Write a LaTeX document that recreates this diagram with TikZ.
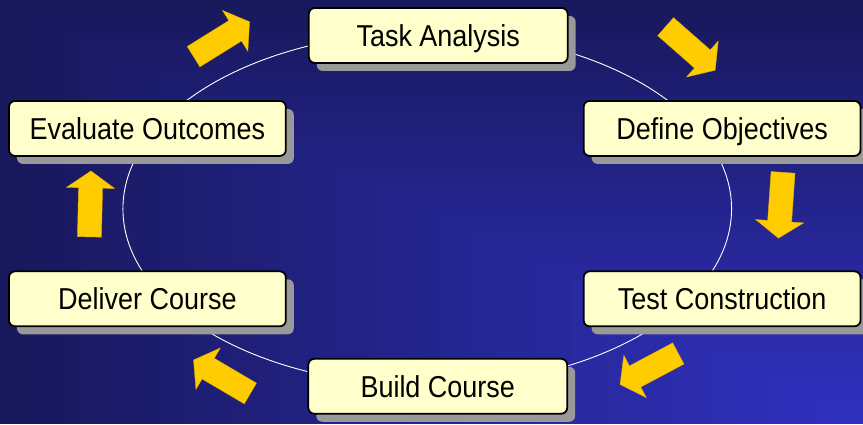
\documentclass[tikz,border=0pt]{standalone}
\usepackage{fontspec}
\usepackage{graphicx}
\setmainfont{Liberation Sans}
\usetikzlibrary{shadows}
\definecolor{bgDark}{HTML}{18185C}
\definecolor{bgBright}{HTML}{3131C2}
\definecolor{boxfill}{HTML}{FFFFCC}
\definecolor{shadowgray}{HTML}{999999}
\definecolor{arrowyellow}{HTML}{FFCC00}
\definecolor{arrowedge}{HTML}{E0B000}
\tikzset{
  stage/.style={draw=black, line width=1.8pt, fill=boxfill, rounded corners=6pt,
    minimum height=55pt, inner sep=0pt, text=black,
    text height=21.7pt, text depth=0pt,
    font=\fontsize{27}{30}\selectfont,
    drop shadow={shadow xshift=8pt, shadow yshift=-8pt, fill=shadowgray, opacity=1}},
  narrowstage/.style={stage, minimum width=259pt},
  widestage/.style={stage, minimum width=277pt},
  cycleline/.style={draw=white, line width=0.9pt},
  blockarrow/.style={fill=arrowyellow, draw=arrowedge, line width=0.4pt},
  pics/flowarrow/.style={code={
    \filldraw[blockarrow] (0,12)--(49,12)--(49,24)--(66,0)--(49,-24)--(49,-12)--(0,-12)--cycle;}}
}
\newcommand{\stagetext}[1]{\scalebox{1}[1.12]{#1}}
\begin{document}
\begin{tikzpicture}[x=1pt,y=-1pt]
  % rectangular "from corner" gradient, brightest at lower right
  \foreach \i in {0,...,79}{
    \pgfmathsetmacro{\t}{1-\i/80}
    \pgfmathsetmacro{\p}{100*\t}
    \fill[bgDark!\p!bgBright] ({863-863*\t},{424-424*\t}) rectangle (863.5,424.5);
  }
  \useasboundingbox (0,0) rectangle (863,424);
  \draw[cycleline] (427.5,209) ellipse [x radius=304.5pt, y radius=177pt];

  \node[narrowstage] (task) at (438.5,35.5) {\stagetext{Task Analysis}};
  \node[widestage] (define) at (722.5,128.5) {\stagetext{Define Objectives}};
  \node[widestage] (test) at (722.5,299) {\stagetext{Test Construction}};
  \node[narrowstage] (build) at (438,386.5) {\stagetext{Build Course}};
  \node[widestage] (deliver) at (147.5,299) {\stagetext{Deliver Course}};
  \node[widestage] (evaluate) at (147.5,128.5) {\stagetext{Evaluate Outcomes}};

  \pic[rotate=31.9] (a1) at (193.7,56.7) {flowarrow};
  \pic[rotate=-41.3] (a2) at (666,26.7) {flowarrow};
  \pic[rotate=266] (a3) at (783.5,172.5) {flowarrow};
  \pic[rotate=208] (a4) at (678.7,353.7) {flowarrow};
  \pic[rotate=149.5] (a5) at (250.5,393.7) {flowarrow};
  \pic[rotate=88.7] (a6) at (89.5,237) {flowarrow};
\end{tikzpicture}
\end{document}
